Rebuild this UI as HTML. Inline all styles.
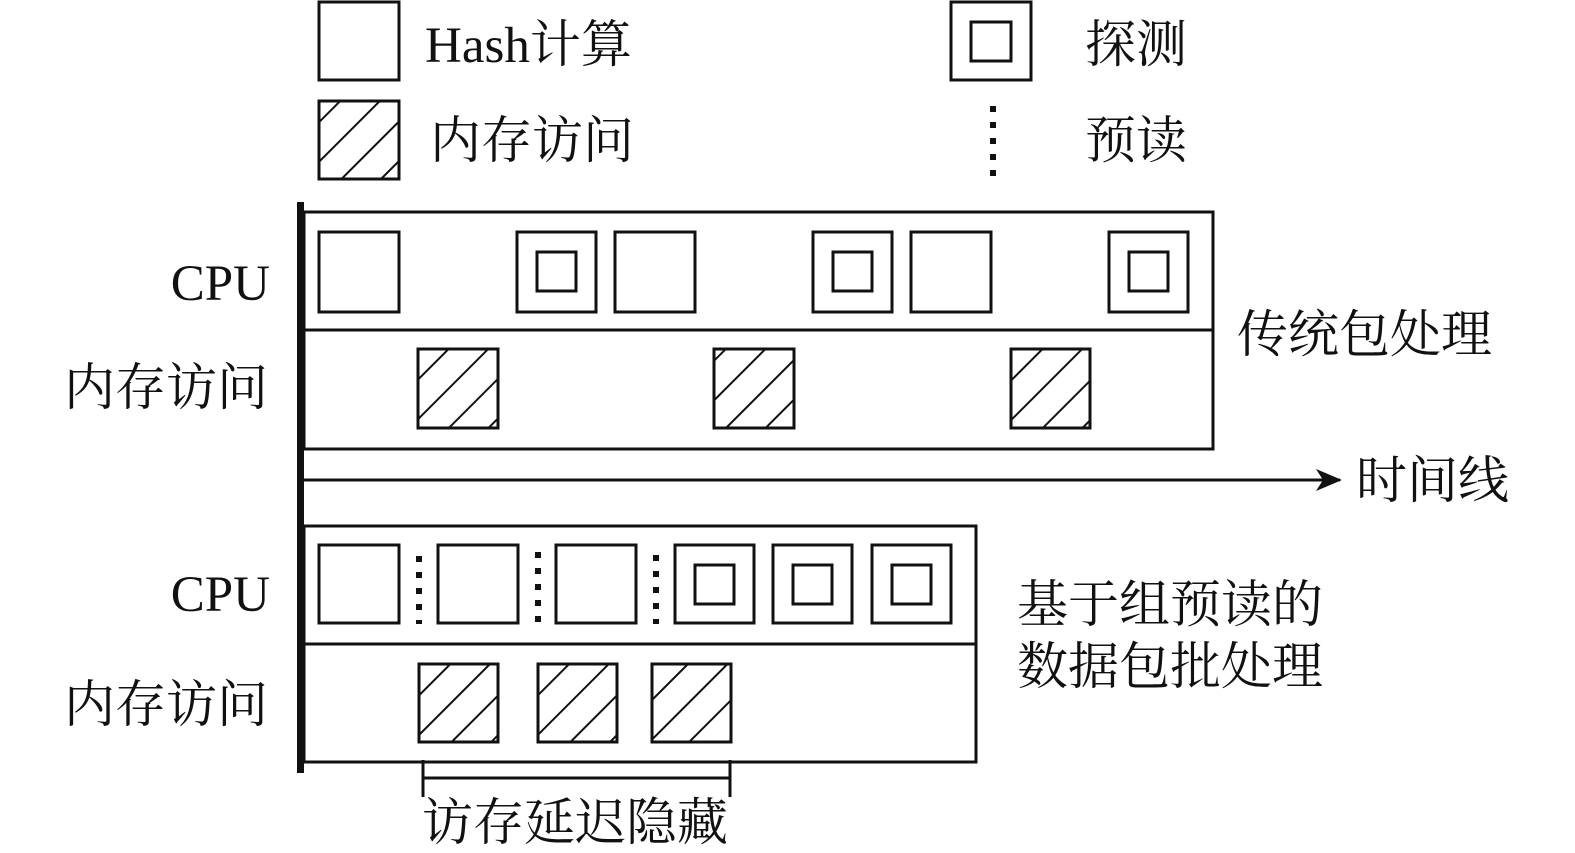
<!DOCTYPE html>
<html><head><meta charset="utf-8"><style>
html,body{margin:0;padding:0;background:#fff;overflow:hidden;}
svg{display:block}
text{font-family:"Liberation Serif","Noto Serif CJK SC",serif;fill:#111;}
</style></head><body>
<svg width="1575" height="853" viewBox="0 0 1575 853" xmlns="http://www.w3.org/2000/svg">
<defs>
<pattern id="h" patternUnits="userSpaceOnUse" width="28" height="28" patternTransform="rotate(45)">
<line x1="4" y1="0" x2="4" y2="28" stroke="#111" stroke-width="2"/>
</pattern>
<marker id="ar" markerWidth="26" markerHeight="24" refX="24" refY="12" orient="auto" markerUnits="userSpaceOnUse">
<path d="M0,1 L26,12 L0,23 L7,12 Z" fill="#111"/>
</marker>
</defs>
<g fill="none" stroke="#111" stroke-width="3">
<rect x="319" y="2" width="80" height="78" fill="#fff"/>
<rect x="319" y="101" width="80" height="78" fill="url(#h)"/>
<rect x="951" y="2" width="80" height="78"/>
<rect x="971" y="22" width="40" height="39"/>
<line x1="993" y1="106" x2="993" y2="180" stroke-width="6" stroke-dasharray="6 10"/>

<rect x="304" y="212" width="909" height="237"/>
<line x1="304" y1="330" x2="1213" y2="330"/>
<rect x="319" y="232" width="80" height="80"/>
<rect x="517" y="232" width="79" height="80"/><rect x="537" y="252" width="39" height="39"/>
<rect x="615" y="232" width="80" height="80"/>
<rect x="813" y="232" width="79" height="80"/><rect x="833" y="252" width="39" height="39"/>
<rect x="911" y="232" width="80" height="80"/>
<rect x="1109" y="232" width="79" height="80"/><rect x="1129" y="252" width="39" height="39"/>
<rect x="418" y="349" width="80" height="79" fill="url(#h)"/>
<rect x="714" y="349" width="80" height="79" fill="url(#h)"/>
<rect x="1011" y="349" width="79" height="79" fill="url(#h)"/>

<line x1="304" y1="480" x2="1340" y2="480" marker-end="url(#ar)"/>

<rect x="304" y="526" width="672" height="236"/>
<line x1="304" y1="644" x2="976" y2="644"/>
<rect x="319" y="545" width="80" height="78"/>
<rect x="438" y="545" width="80" height="78"/>
<rect x="556" y="545" width="80" height="78"/>
<rect x="675" y="545" width="79" height="78"/><rect x="695" y="565" width="39" height="39"/>
<rect x="773" y="545" width="79" height="78"/><rect x="793" y="565" width="39" height="39"/>
<rect x="872" y="545" width="79" height="78"/><rect x="892" y="565" width="39" height="39"/>
<line x1="419" y1="556" x2="419" y2="624" stroke-width="6" stroke-dasharray="6 10"/>
<line x1="538" y1="552" x2="538" y2="624" stroke-width="6" stroke-dasharray="6 10"/>
<line x1="656" y1="555" x2="656" y2="624" stroke-width="6" stroke-dasharray="6 10"/>
<rect x="419" y="664" width="79" height="78" fill="url(#h)"/>
<rect x="538" y="664" width="79" height="78" fill="url(#h)"/>
<rect x="652" y="664" width="79" height="78" fill="url(#h)"/>

<line x1="423" y1="778" x2="730" y2="778"/>
<line x1="423" y1="760" x2="423" y2="797"/>
<line x1="730" y1="760" x2="730" y2="797"/>
</g>
<rect x="297" y="202" width="7" height="571" fill="#111"/>

<g font-size="51">
<text x="425" y="62">Hash计算</text>
<text x="1085" y="62">探测</text>
<text x="430" y="158">内存访问</text>
<text x="1085" y="158">预读</text>
<text x="270" y="300" text-anchor="end">CPU</text>
<text x="268" y="405" text-anchor="end">内存访问</text>
<text x="1237" y="352">传统包处理</text>
<text x="1356" y="498">时间线</text>
<text x="270" y="611" text-anchor="end">CPU</text>
<text x="268" y="722" text-anchor="end">内存访问</text>
<text x="1017" y="622">基于组预读的</text>
<text x="1017" y="684">数据包批处理</text>
<text x="422" y="840">访存延迟隐藏</text>
</g>
</svg>
</body></html>
